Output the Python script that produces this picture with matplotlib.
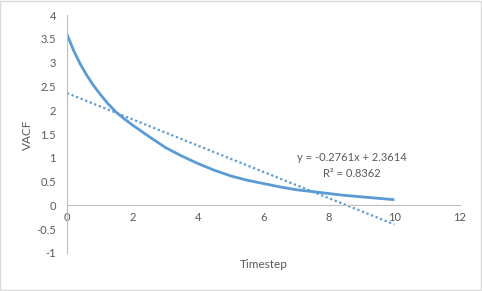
import matplotlib.pyplot as plt
from matplotlib.patches import Rectangle
import numpy as np

plt.rcParams['font.family'] = ['Lato', 'DejaVu Sans']

# VACF curve
timestep = [0, 0.2, 0.4, 0.6, 0.8, 1.0, 1.25, 1.5, 1.75, 2.0, 2.5, 3.0, 3.5, 4.0,
            4.5, 5.0, 5.5, 6.0, 6.5, 7.0, 7.5, 8.0, 8.5, 9.0, 9.5, 10.0]
vacf = [3.60, 3.26, 2.98, 2.74, 2.53, 2.35, 2.14, 1.96, 1.82, 1.69, 1.45, 1.22, 1.04, 0.88,
        0.74, 0.62, 0.53, 0.46, 0.39, 0.33, 0.29, 0.25, 0.21, 0.18, 0.15, 0.12]

# linear trendline
slope = -0.2761
intercept = 2.3614
r_squared = 0.8362

xticks = [0, 2, 4, 6, 8, 10, 12]
yticks = [-1, -0.5, 0, 0.5, 1, 1.5, 2, 2.5, 3, 3.5, 4]

blue = '#5B9BD5'
grey = '#BFBFBF'
text_col = '#595959'

fig = plt.figure(figsize=(4.82, 2.91), dpi=100)
ax = fig.add_axes([0.139, 0.1306, 0.815, 0.8174])

ax.plot(timestep, vacf, color=blue, linewidth=2.0, solid_capstyle='butt',
        solid_joinstyle='round')

trend_x = np.array([timestep[0], timestep[-1]])
ax.plot(trend_x, slope * trend_x + intercept, color=blue, linewidth=1.6,
        linestyle=(0, (1, 1.2)))

ax.set_xlim(0, 12)
ax.set_ylim(-1, 4)
ax.set_xticks(xticks)
ax.set_yticks(yticks)
ax.set_xticklabels([str(v) for v in xticks])
ax.set_yticklabels([('%g' % v) for v in yticks])
ax.tick_params(length=0, labelsize=8, colors=text_col)
ax.tick_params(axis='x', pad=5)
ax.tick_params(axis='y', pad=8)

# Excel style axes: horizontal axis crosses at 0
ax.spines['bottom'].set_position(('data', 0))
ax.spines['bottom'].set_color(grey)
ax.spines['left'].set_color(grey)
ax.spines['top'].set_visible(False)
ax.spines['right'].set_visible(False)

ax.text(8.7, 1.01, 'y = -0.2761x + 2.3614', ha='center', va='center', fontsize=8, color=text_col)
ax.text(8.7, 0.67, 'R² = %.4f' % r_squared, ha='center', va='center', fontsize=8, color=text_col)

fig.text(264 / 482, 1 - 265 / 291, 'Timestep', ha='center', va='center', fontsize=8.5, color=text_col)
fig.text(27 / 482, 1 - 135 / 291, 'VACF', ha='center', va='center', rotation=90, fontsize=8.5, color=text_col)

# thin border around the whole chart
fig.patches.append(Rectangle((0.001, 0.002), 0.997, 0.995, transform=fig.transFigure,
                             fill=False, edgecolor='#D9D9D9', linewidth=1))

fig.savefig('out.png', dpi=100)
plt.close(fig)
